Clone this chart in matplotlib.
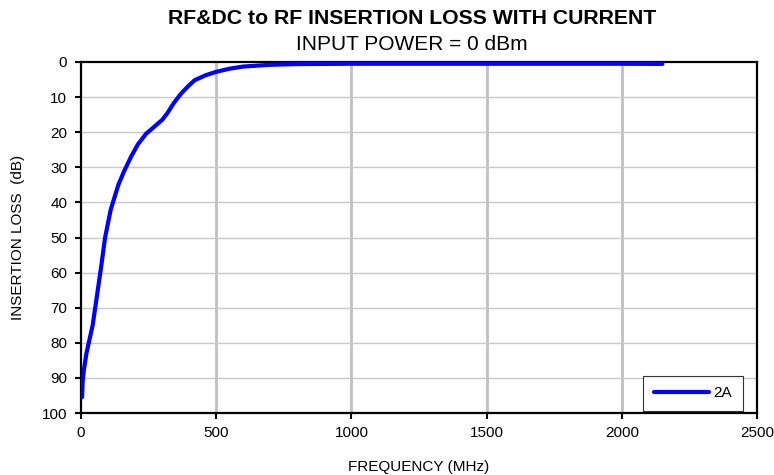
import numpy as np
import matplotlib.pyplot as plt

plt.rcParams['font.family'] = ['Liberation Sans', 'DejaVu Sans']

# data
freq = [4, 5, 6, 10, 20, 30, 43, 60, 75, 89, 110, 138, 160, 185, 210, 240, 270,
        300, 320, 345, 370, 395, 420, 460, 500, 550, 600, 700, 800, 1000, 1500, 2000, 2150]
loss = [95.5, 93, 91, 88, 83, 79.5, 75, 66, 58, 50, 42, 35, 31, 27, 23.5, 20.5, 18.5,
        16.5, 14.5, 11.5, 9, 7, 5.2, 3.8, 2.8, 1.9, 1.3, 0.8, 0.6, 0.5, 0.5, 0.5, 0.55]
label = '2A'

fig = plt.figure(figsize=(7.74, 4.75), dpi=100)
ax = fig.add_axes([0.1047, 0.1305, 0.8733, 0.739])

ax.plot(freq, loss, color='#0000ff', lw=3, solid_capstyle='round', label=label, zorder=3)

ax.set_xlim(0, 2500)
ax.set_ylim(100, 0)
ax.set_xticks(np.arange(0, 2501, 500))
ax.set_yticks(np.arange(0, 101, 10))

for x in [500, 1000, 1500, 2000]:
    ax.axvline(x, color='#c0c0c0', lw=2, zorder=1)
for y in range(10, 100, 10):
    ax.axhline(y, color='#c8c8c8', lw=1, zorder=1)

for s in ax.spines.values():
    s.set_linewidth(1.6)
    s.set_color('black')
ax.tick_params(direction='out', length=4.5, width=1.5, labelsize=11)
ax.tick_params(axis='x', pad=5)
ax.tick_params(axis='y', pad=5.5)

ax.set_xlabel('FREQUENCY (MHz)', fontsize=11, labelpad=14)
ax.set_ylabel('INSERTION LOSS  (dB)', fontsize=11, labelpad=12)

fig.text(0.532, 0.962, 'RF&DC to RF INSERTION LOSS WITH CURRENT', ha='center', va='center',
         fontsize=15.3, fontweight='bold')
fig.text(0.532, 0.906, 'INPUT POWER = 0 dBm', ha='center', va='center', fontsize=15)

leg = ax.legend(loc='lower right', fontsize=11, frameon=True, fancybox=False,
                edgecolor='black', handlelength=3.6, handletextpad=0.3, borderpad=0.7,
                borderaxespad=0, bbox_to_anchor=(0.979, 0.006))
leg.get_frame().set_linewidth(0.8)

fig.savefig('out.png', dpi=100)
